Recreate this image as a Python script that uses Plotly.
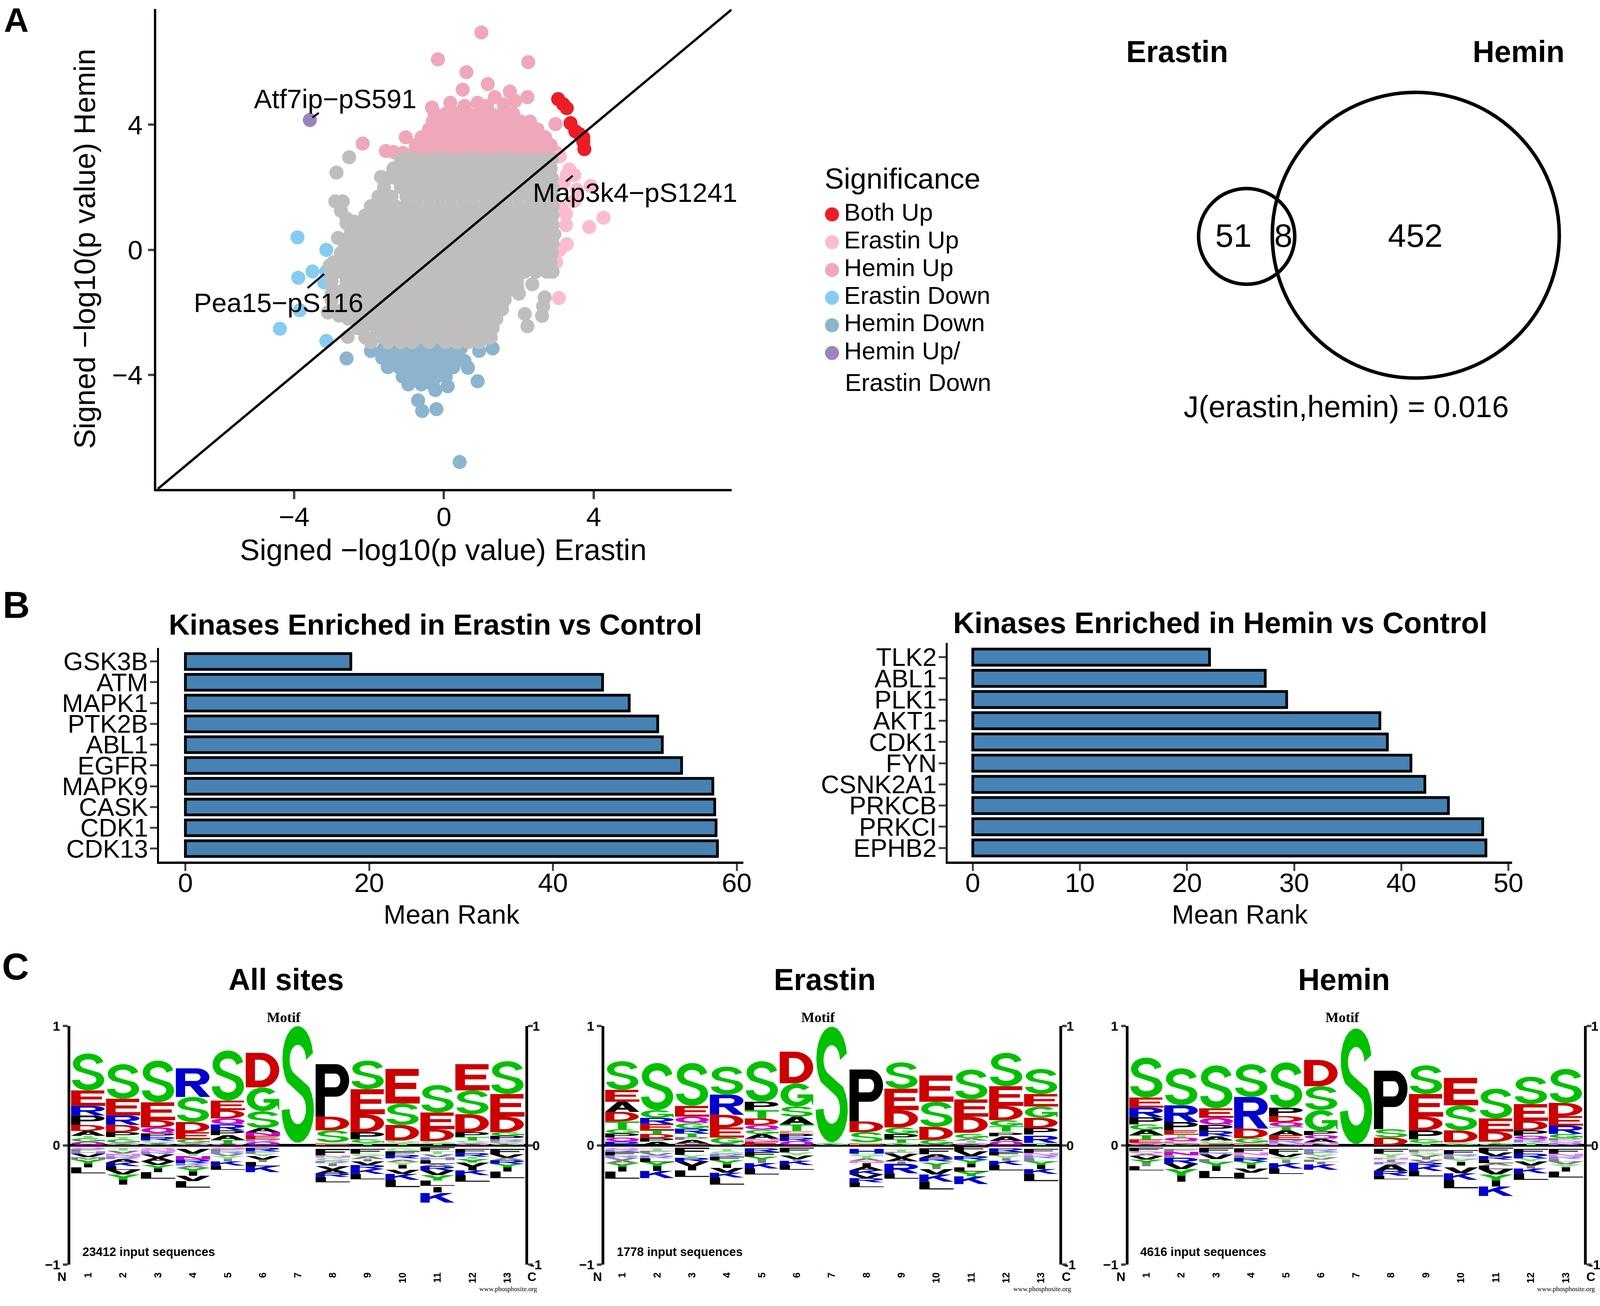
import math
import plotly.graph_objects as go

W, H = 4130, 3344

# ---------------- Panel A data ----------------
gray_rows = [
 (2.9, [-1.15,-.9,-.6,-.3,0,.3,.6,.9,1.2,1.5,1.8,2.1,2.4,2.7,2.88]),
 (2.6, [-1.35,-1.05,-.75,-.45,-.15,.15,.45,.75,1.05,1.35,1.65,1.95,2.25,2.55,2.85]),
 (2.3, [-1.5,-1.3,-1.0,-.7,-.4,-.1,.2,.5,.8,1.1,1.4,1.7,2.0,2.3,2.6,2.88]),
 (2.0, [-1.6,-1.15,-.85,-.55,-.25,.05,.35,.65,.95,1.25,1.55,1.85,2.15,2.45,2.75,2.9]),
 (1.7, [-1.75,-1.4,-1.0,-.7,-.4,-.1,.2,.5,.8,1.1,1.4,1.7,2.0,2.3,2.6,2.9]),
 (1.4, [-1.95,-1.6,-1.3,-1.0,-.7,-.4,-.1,.2,.5,.8,1.1,1.4,1.7,2.0,2.3,2.6,2.9]),
 (1.1, [-2.1,-1.8,-1.45,-1.15,-.85,-.55,-.25,.05,.35,.65,.95,1.25,1.55,1.85,2.15,2.45,2.75,2.9]),
 (0.8, [-2.35,-2.0,-1.65,-1.3,-1.0,-.7,-.4,-.1,.2,.5,.8,1.1,1.4,1.7,2.0,2.3,2.6,2.9]),
 (0.5, [-2.5,-2.15,-1.8,-1.45,-1.15,-.85,-.55,-.25,.05,.35,.65,.95,1.25,1.55,1.85,2.15,2.45,2.75,2.95]),
 (0.2, [-2.65,-2.35,-2.0,-1.65,-1.3,-1.0,-.7,-.4,-.1,.2,.5,.8,1.1,1.4,1.7,2.0,2.3,2.6,2.9]),
 (-0.1, [-2.75,-2.45,-2.15,-1.8,-1.45,-1.15,-.85,-.55,-.25,.05,.35,.65,.95,1.25,1.55,1.85,2.15,2.45,2.75,2.88]),
 (-0.4, [-2.95,-2.6,-2.3,-2.0,-1.65,-1.3,-1.0,-.7,-.4,-.1,.2,.5,.8,1.1,1.4,1.7,2.0,2.3,2.6,2.85]),
 (-0.7, [-3.0,-2.75,-2.45,-2.15,-1.8,-1.45,-1.15,-.85,-.55,-.25,.05,.35,.65,.95,1.25,1.55,1.85,2.15,2.45,2.75,2.9]),
 (-1.0, [-3.0,-2.6,-2.3,-2.0,-1.65,-1.3,-1.0,-.7,-.4,-.1,.2,.5,.8,1.1,1.4,1.7,1.95]),
 (-1.3, [-2.95,-2.7,-2.45,-2.15,-1.8,-1.45,-1.15,-.85,-.55,-.25,.05,.35,.65,.95,1.25,1.55,1.72]),
 (-1.6, [-3.0,-2.6,-2.3,-2.0,-1.65,-1.3,-1.0,-.7,-.4,-.1,.2,.5,.8,1.1,1.4,1.62]),
 (-1.9, [-3.0,-2.7,-2.45,-2.15,-1.8,-1.45,-1.15,-.85,-.55,-.25,.05,.35,.65,.95,1.25,1.55]),
 (-2.2, [-2.55,-2.3,-2.0,-1.65,-1.3,-1.0,-.7,-.4,-.1,.2,.5,.8,1.1,1.4]),
 (-2.5, [-2.3,-2.15,-1.8,-1.45,-1.15,-.85,-.55,-.25,.05,.35,.65,.95,1.3]),
 (-2.8, [-2.1,-1.85,-1.6,-1.3,-1.0,-.7,-.4,-.1,.2,.5,.8,1.1,1.25]),
 (-2.95, [-1.95,-1.5,-1.15,-.85,-.4,.05,.35,.65,.95]),
]
gray_extra_x = [-2.53,-2.87,-1.68,-2.9,-2.7,-2.75,-2.6,-2.4,-2.83,-2.6,2.36,1.96,2.69,2.16,2.62,2.23,2.65,-2.57,2.0,-3.05,-3.0,-3.1,-2.8]
gray_extra_y = [2.96,2.47,2.33,1.55,1.55,1.25,.85,.9,.38,1.0,-1.1,-1.22,-1.52,-2.05,-2.11,-2.44,-1.8,-2.78,-1.4,-.5,-1.4,-2.0,-2.1]

hemin_up_rows = [
 (3.1, [-1.1,-.8,-.5,-.2,.1,.4,.7,1.0,1.3,1.6,1.9,2.2,2.5,2.8,3.0]),
 (3.35, [-.75,-.45,-.15,.15,.45,.75,1.05,1.35,1.65,1.95,2.25,2.55,2.85]),
 (3.6, [-.6,-.3,0,.3,.6,.9,1.2,1.5,1.8,2.1,2.4,2.7]),
 (3.85, [-.4,-.15,.15,.45,.75,1.05,1.35,1.65,1.95,2.25,2.5]),
 (4.1, [-.3,0,.3,.6,.9,1.2,1.5,1.8,2.05,2.3]),
 (4.35, [-.25,.05,.35,.65,.95,1.25,1.55,1.85]),
]
hemin_up_x = [1.0,-.16,2.25,.6,1.17,.5,1.76,1.36,2.23,1.9,.9,.17,-.32,-2.17,-1.02,-1.55,-1.35,2.98,1.6,1.15,.55]
hemin_up_y = [6.95,6.09,6.0,5.68,5.3,5.12,5.06,4.88,4.88,4.76,4.7,4.7,4.55,3.4,3.6,3.16,3.13,4.02,4.65,4.6,4.6]

both_up_x = [3.05,3.18,3.28,3.38,3.51,3.62,3.72,3.72,3.75]
both_up_y = [4.82,4.66,4.53,4.05,3.79,3.7,3.6,3.46,3.22]
erastin_up_x = [3.09,3.35,3.48,3.28,3.92,3.55,3.48,4.26,3.88,3.26,3.26,3.28,3.09,3.0,3.07,3.2,3.15]
erastin_up_y = [2.99,2.57,2.39,2.39,2.04,1.92,1.56,1.03,.73,.79,1.15,.18,0,-.39,-1.54,2.15,1.33]
erastin_down_x = [-3.91,-3.14,-3.51,-3.89,-3.2,-3.14,-3.85,-4.38,-3.14]
erastin_down_y = [.4,0,-.69,-.89,-1.04,-.69,-1.93,-2.52,-2.91]
hemin_down_rows = [
 (-3.15, [-1.6,-1.3,-1.0,-.7,-.4,-.1,.2,.45]),
 (-3.45, [-1.65,-1.4,-1.1,-.8,-.5,-.2,.1,.4]),
 (-3.75, [-1.5,-1.2,-.9,-.6,-.3,0,.25]),
 (-4.05, [-1.1,-.8,-.5,-.2,.05]),
 (-4.3, [-.95,-.6,-.3]),
]
hemin_down_x = [.42,-.58,-.2,-.69,-2.6,-1.95,1.3,.94,.9,.64,.1,-.23,.55]
hemin_down_y = [-6.78,-5.15,-5.09,-4.81,-3.47,-3.23,-3.15,-3.23,-4.2,-3.77,-4.36,-4.48,-3.55]
dual_x = [-3.58]
dual_y = [4.15]

label_lines = [([-3.51,-3.34],[4.23,4.38]), ([3.26,3.44],[2.19,2.37]), ([-3.64,-3.2],[-1.22,-.77])]
diagonal = [-7.64, 7.68]

legend_names = ["Both Up","Erastin Up","Hemin Up","Erastin Down","Hemin Down","Hemin Up/"]
venn_counts = ["51","8","452"]

# ---------------- Panel B data ----------------
erastin_kinases = ["GSK3B","ATM","MAPK1","PTK2B","ABL1","EGFR","MAPK9","CASK","CDK1","CDK13"]
erastin_rank = [18.0,45.4,48.3,51.4,51.9,54.0,57.4,57.6,57.75,57.9]
hemin_kinases = ["TLK2","ABL1","PLK1","AKT1","CDK1","FYN","CSNK2A1","PRKCB","PRKCI","EPHB2"]
hemin_rank = [22.1,27.3,29.3,38.0,38.7,40.9,42.2,44.4,47.6,47.9]

# ---------------- Panel C data: letter heights (1/100 of a logo unit), top to bottom ----------------
all_up = [
 "S31 E13 R8 P8 D5 A4 T2 G3 Q3",
 "S29 E14 R8 D6 P4 T2 G3 Q2",
 "S35 E15 D6 Q5 P3 R3 G2 A2",
 "R24 S21 D8.5 E6 G3 Q2",
 "S42 E8 D7 Q5 R5 P4 A4 T3 Q1.5",
 "D29 G20 S14 A3.5 N3 E3 R2 Q3",
 "S98 _2",
 "P44 D11.5 S10 _.5 E2",
 "S24 E21 D15 P6 G3 T2",
 "E29 S18 D13 G2 T2",
 "S23 E14 D10 G2 T1.5",
 "E22 S20 D15 P4 T3 G2 Q2",
 "S27.5 E19 D13 G3 P3 R2 E1 G2",
]
all_dn = [
 "_1.5 Q1.5 F2 H2 V3 M2 Y3.5 I3 L5",
 "_2 T2.5 V2.5 N2.5 R2 A3 K3 L3 V4 Y4.5 I4",
 "_2 Q1.5 N2 R2 V3 A3 V3 Y3 I3 L5.5",
 "_3 V4 T2 N3 R3 K2 A2 Y3 I3.5 V4.5 L5.5",
 "_1.5 Q1.5 F2 R2 V2 Y2.5 I2 K3.5 L3.5",
 "_2 R3 F2 Y2 V3 I2 L3.5 K5",
 "",
 "_3 F5.5 N2 G2.5 R2 I2.5 V3 A3 R3 L4.5",
 "_3 F4 G2 A2.5 I2 V3 R3.5 K4 L4.5",
 "_2.5 G2.5 F3 R3 _1 A2 Y2.5 I3 _1 V3.5 K5 L6",
 "_1.5 F3.5 T2.5 V2.5 H2.5 L3 A2 R3.5 V4 Y4.5 L4.5 _1 I4.5 _.5 K8",
 "_3 F3.5 R3 T2 Y3 V3.5 I3 K4 L5.5",
 "_3 F4.5 V3 A2 R3 Y3 I3.5 L5.5",
]
erastin_up = [
 "S24 E10 A8.5 D8 T6.5 G3.5 P3.5 Q3.5 R3",
 "S39.5 G6.5 R5 E5.5 T3 D3.5 P3 A3",
 "S36 E9 Q5.5 G4.5 R4 T3 P2.5 A3 E1.5",
 "S23.5 R17 D10.5 E8.5 G5 Q1.5",
 "S34 P7 T7 D5.5 Q4 G3.5 A4 N2.5 E3",
 "D26.5 G19.5 S8.5 A6.5 T5.5 E2.5 P3 R3 Q3.5",
 "S97 T.5 G2",
 "P43.5 D9 S8.5 _.5 E2",
 "S22 E18 D14.5 G5.5 P4.5 T3 G2",
 "E22 S21 D11 G3.5 Q1",
 "S25 E14.5 D13.5 _1 G3.5 A2 T2 Q2",
 "S28 E16.5 D12 G5 T4.5 _1 P3 A4 Q3.5",
 "S21 E10.5 G9.5 D8.5 P5.5 _1 R6 T2",
]
erastin_dn = [
 "_2 Q1.5 R2 F3 R2 V2 A2.5 Y3 I4 L6",
 "_2.5 T2 F2 V2 R2.5 L3 Y3.5 I4 K6",
 "_2 F6 Y2.5 R3 V4 I3.5 L5.5",
 "_3 T2 G2 R2.5 F3 Y3.5 I3 V4 K4 L6",
 "_2.5 R3 F4 Y3 I2.5 K4.5 L5",
 "_2 F4 Y2.5 V3 I1.5 K3.5 L4",
 "",
 "_3 H4 G2 T2 A2 N2 I3 A3 K3.5 V3 R3.5 L4",
 "_3.5 T2 F1.5 V3.5 A3 I2 R8 L4.5",
 "_2.5 F5 A3 R3 _1 Y3 I2.5 V4.5 K6 L6.5",
 "_1 F4 V4 R3 Y3.5 I3 L3.5 Y4 K6.5",
 "_2.5 R3 F3 Y2.5 I2 K3.5 L4.5",
 "_3 F3.5 N2 R2.5 L2.5 Y3 I3.5 K4 L6",
]
hemin_up = [
 "S33.5 E8.5 R8 P6 G4.5 A4.5 T3.5 E3 Q2",
 "S31 R14 P7 E3.5 T2.5 Q3 E2 G1.5",
 "S36 E8 Q6 P5 R4.5 A3.5 G2.5 E1.5",
 "S27.5 R26.5 D8 G4 E2",
 "S38 P7 D5 Q4 T3 A4 E4 R2.5 N2",
 "D22 S20 G17.5 P3.5 Q3 A3 N2.5",
 "S97 _1",
 "P49 S7 D6.5",
 "S24 E19 D11.5 P7.5 G3 T2",
 "E23 S21 D10 G2.5",
 "S25 E11 D8.5 T1.5 G1.5",
 "S23 E14 D8 P4.5 Q3 R2.5 T2.5",
 "S28.5 D11 E8 R7 G3.5 P2 Q2 R2",
]
hemin_dn = [
 "_2 F3 Q2 A2 V3 Y3 I2.5 L3.5",
 "_3 F2.5 N3 L2 R5 V4.5 Y5.5 I5",
 "_2 F4 R1.5 V4 L2.5 Y3.5 I4 L6",
 "_2.5 F3.5 N2.5 L2 R3 Y3 I3 V3.5 L5",
 "_3 F4 V3 Y2.5 I2.5 K4.5 L4.5",
 "_3 R2.5 F2 Y2.5 V2 L2 I2 K4.5",
 "",
 "_3 F4 Y2.5 T1 N1.5 I2 R2 A5.5 R4 L3",
 "_3.5 F2.5 G2 V2 I2 V2.5 R3 K4 L4.5",
 "_4 F3.5 R2 L2 Y2.5 I3 _1.5 V5 K5.5 L7",
 "_2 F4 V3 R3 L3 A2 L3 V4.5 Y5 I5 K8",
 "_3 F4 R4 Y2.5 V3.5 I2.5 K4 L5.5",
 "_3 F4 N2.5 R2 L2 V2.5 Y2.5 I3.5 L5",
]
positions = list(range(1, 14))

# ---------------- Styles and helpers ----------------
FONT = "Liberation Sans"
SERIF = "Liberation Serif"
COL_GRAY, COL_HUP, COL_EUP, COL_BOTH = "#BFBEBC", "#EFA8BA", "#FBBDCD", "#EE1C25"
COL_EDN, COL_HDN, COL_DUAL = "#86CCF2", "#8DB4CE", "#9A84BE"
LETTER_COLORS = {}
for c in "STGY": LETTER_COLORS[c] = (0, 192, 0)
for c in "QN": LETTER_COLORS[c] = (204, 0, 204)
for c in "KRH": LETTER_COLORS[c] = (0, 0, 204)
for c in "DE": LETTER_COLORS[c] = (204, 0, 0)
for c in "PAVLIFM": LETTER_COLORS[c] = (0, 0, 0)

def letter_fill(letter, h):
    r, g, b = LETTER_COLORS[letter]
    k = 0.5 if h <= .025 else 0.0   # the shortest letters blur to pale bands in the reference
    return "rgb(%d,%d,%d)" % (r + (255 - r) * k, g + (255 - g) * k, b + (255 - b) * k)

def arc(cx, cy, rx, ry, a0, a1, n=14):
    return [(cx + rx * math.cos(math.radians(a0 + (a1 - a0) * i / n)),
             cy + ry * math.sin(math.radians(a0 + (a1 - a0) * i / n))) for i in range(n + 1)]

GLYPHS = {
 "S": [arc(.5,.72,.45,.28,10,225)+arc(.5,.29,.24,.13,70,-180)+arc(.5,.28,.47,.28,180,405)+arc(.5,.71,.24,.13,250,0)],
 "E": [[(0,0),(1,0),(1,.2),(.28,.2),(.28,.42),(.9,.42),(.9,.6),(.28,.6),(.28,.8),(.97,.8),(.97,1),(0,1)]],
 "L": [[(0,0),(1,0),(1,.14),(.3,.14),(.3,1),(0,1)]],
 "T": [[(.37,0),(.63,0),(.63,.82),(1,.82),(1,1),(0,1),(0,.82),(.37,.82)]],
 "K": [[(0,0),(.27,0),(.27,.35),(.42,.5),(.72,0),(1,0),(.6,.65),(.95,1),(.6,1),(.27,.62),(.27,1),(0,1)]],
 "Y": [[(.37,0),(.63,0),(.63,.4),(1,1),(.7,1),(.5,.62),(.3,1),(0,1),(.37,.4)]],
 "V": [[(.36,0),(.64,0),(1,1),(.72,1),(.5,.3),(.28,1),(0,1)]],
 "A": [[(0,0),(.28,0),(.35,.22),(.42,.4),(.5,.72),(.58,.4),(.42,.4),(.35,.22),(.65,.22),(.72,0),(1,0),(.64,1),(.36,1)]],
 "N": [[(0,0),(.25,0),(.25,.6),(.72,0),(1,0),(1,1),(.75,1),(.75,.4),(.28,1),(0,1)]],
 "F": [[(0,0),(.28,0),(.28,.42),(.85,.42),(.85,.6),(.28,.6),(.28,.8),(1,.8),(1,1),(0,1)]],
 "H": [[(0,0),(.27,0),(.27,.4),(.73,.4),(.73,0),(1,0),(1,1),(.73,1),(.73,.6),(.27,.6),(.27,1),(0,1)]],
 "M": [[(0,0),(.2,0),(.2,.7),(.42,0),(.58,0),(.8,.7),(.8,0),(1,0),(1,1),(.72,1),(.5,.35),(.28,1),(0,1)]],
 "I": [[(.38,0),(.62,0),(.62,1),(.38,1)]],
 "D": [[(0,0),(.45,0)]+arc(.45,.5,.53,.5,-90,90)+[(0,1),(0,.2),(.27,.2),(.27,.8),(.42,.8)]+arc(.42,.5,.3,.3,90,-90)+[(.27,.2),(0,.2)]],
 "P": [[(0,0),(.27,0),(.27,.38),(.6,.38)]+arc(.6,.69,.38,.31,-90,90)+[(0,1),(0,.56),(.27,.56),(.27,.82),(.58,.82)]+arc(.58,.69,.14,.13,90,-90)+[(.27,.56),(0,.56)]],
 "R": [[(0,0),(.27,0),(.27,.38),(.42,.38),(.7,0),(1,0),(.68,.42)]+arc(.6,.69,.38,.31,-50,90)+[(0,1),(0,.56),(.27,.56),(.27,.82),(.58,.82)]+arc(.58,.69,.14,.13,90,-90)+[(.27,.56),(0,.56)]],
 "Q": [arc(.5,.52,.49,.48,-90,270,28)+arc(.5,.52,.24,.27,270,-90,20), [(.55,.28),(.88,0),(1,.12),(.72,.36)]],
 "G": [arc(.5,.5,.48,.5,40,330)+[(.98,.02),(.98,.52),(.52,.52),(.52,.36),(.74,.36)]+arc(.5,.5,.25,.3,-30,-320)],
}

def parse_stack(s):
    out = []
    for tok in s.split():
        out.append((tok[0], float(tok[1:]) / 100.0))
    return out

def logo_traces(up, dn, xref, yref):
    buckets = {}
    def add(letter, col, base, h):
        if letter == "_":
            return
        b = buckets.setdefault(letter_fill(letter, h), ([], []))
        for poly in GLYPHS[letter]:
            for gx, gy in poly + [poly[0]]:
                b[0].append(col - .49 + .98 * gx)
                b[1].append(base + h * gy)
            b[0].append(None); b[1].append(None)
    for col, s in zip(positions, up):
        st = parse_stack(s)
        top = sum(h for _, h in st)
        for letter, h in st:
            add(letter, col, top - h, h)
            top -= h
    for col, s in zip(positions, dn):
        y = 0.0
        for letter, h in parse_stack(s):
            add(letter, col, y - h, h)
            y -= h
    return [go.Scatter(x=v[0], y=v[1], mode="none", fill="toself", fillcolor=k, hoverinfo="skip",
                       showlegend=False, xaxis=xref, yaxis=yref) for k, v in buckets.items()]

def flat(rows, ex=(), ey=()):
    xs, ys = [], []
    for y, r in rows:
        xs += r; ys += [y] * len(r)
    return xs + list(ex), ys + list(ey)

SHIFT = 15   # vertical correction, in pixels, of the whole picture
def dx(a, b): return [a / W, b / W]
def dy(top, bottom): return [1 - (bottom - SHIFT) / H, 1 - (top - SHIFT) / H]

annotations = []
def text(s, px, py, size, bold=False, family=FONT, anchor="center", angle=0, color="#000000"):
    annotations.append(dict(text=s, x=px / W, y=1 - (py - SHIFT) / H, xref="paper", yref="paper", xanchor=anchor,
                            yanchor="middle", showarrow=False, textangle=angle,
                            font=dict(family=family, size=size, color=color, weight=700 if bold else 400)))

fig = go.Figure()

# ---- panel A traces
def scat(x, y, color):
    fig.add_trace(go.Scatter(x=x, y=y, mode="markers", marker=dict(size=36, color=color, line=dict(width=0)),
                             showlegend=False, hoverinfo="skip", xaxis="x", yaxis="y"))
hx, hy = flat(hemin_up_rows, hemin_up_x, hemin_up_y)
scat(hx, hy, COL_HUP)
scat(erastin_up_x, erastin_up_y, COL_EUP)
scat(both_up_x, both_up_y, COL_BOTH)
scat(erastin_down_x, erastin_down_y, COL_EDN)
dnx, dny = flat(hemin_down_rows, hemin_down_x, hemin_down_y)
scat(dnx, dny, COL_HDN)
scat(dual_x, dual_y, COL_DUAL)
gx, gy = flat(gray_rows, gray_extra_x, gray_extra_y)
scat(gx, gy, COL_GRAY)
fig.add_trace(go.Scatter(x=diagonal, y=diagonal, mode="lines", line=dict(color="#000000", width=6),
                         showlegend=False, hoverinfo="skip", xaxis="x", yaxis="y"))
for lx, ly in label_lines:
    fig.add_trace(go.Scatter(x=lx, y=ly, mode="lines", line=dict(color="#000000", width=5),
                             showlegend=False, hoverinfo="skip", xaxis="x", yaxis="y"))

# ---- panel B traces
for names, vals, xa, ya in [(erastin_kinases, erastin_rank, "x2", "y2"), (hemin_kinases, hemin_rank, "x3", "y3")]:
    fig.add_trace(go.Bar(x=vals, y=names, orientation="h", width=.76,
                         marker=dict(color="#4682B4", line=dict(color="#000000", width=7)),
                         showlegend=False, hoverinfo="skip", xaxis=xa, yaxis=ya))

# ---- panel C traces
for up, dn, xa, ya in [(all_up, all_dn, "x4", "y4"), (erastin_up, erastin_dn, "x5", "y5"), (hemin_up, hemin_dn, "x6", "y6")]:
    for t in logo_traces(up, dn, xa, ya):
        fig.add_trace(t)

# ---- legend drawn on a pixel canvas axis
leg_cols = [COL_BOTH, COL_EUP, COL_HUP, COL_EDN, COL_HDN, COL_DUAL]
leg_y = [y - SHIFT for y in [551, 623, 695, 767, 838, 910]]
fig.add_trace(go.Scatter(x=[2145] * 6, y=leg_y, mode="markers", marker=dict(size=36, color=leg_cols),
                         showlegend=False, hoverinfo="skip", xaxis="x7", yaxis="y7", cliponaxis=False))
fig.add_trace(go.Scatter(x=[2176] * 6, y=leg_y, mode="text", text=legend_names,
                         textposition="middle right", textfont=dict(family=FONT, size=63, color="#000000"),
                         showlegend=False, hoverinfo="skip", xaxis="x7", yaxis="y7", cliponaxis=False))

# ---- layout
axis_tick = dict(family=FONT, size=69, color="#000000")
def cat_axis(domain, rng, names, anchor):
    return dict(domain=domain, range=rng, type="category", categoryorder="array", categoryarray=names,
                tickmode="array", tickvals=names, ticktext=names, ticks="outside", ticklen=18, tickwidth=5,
                showgrid=False, zeroline=False, showline=True, linewidth=5, linecolor="#000",
                ticklabelstandoff=-8, tickfont=dict(family=FONT, size=65, color="#000"), anchor=anchor)
layout = dict(
    width=W, height=H, margin=dict(l=0, r=0, t=0, b=0), autosize=False,
    paper_bgcolor="white", plot_bgcolor="rgba(0,0,0,0)", bargap=.2,
    xaxis=dict(domain=dx(403, 1886), range=[-7.68, 7.68], tickvals=[-4, 0, 4], ticks="outside", ticklen=20, tickwidth=6,
               showgrid=False, zeroline=False, showline=True, linewidth=6, linecolor="#000", tickfont=axis_tick, anchor="y",
               ticklabelstandoff=-14),
    yaxis=dict(domain=dy(19, 1262), range=[-7.64, 7.7], tickvals=[-4, 0, 4], ticks="outside", ticklen=15, tickwidth=6,
               showgrid=False, zeroline=False, showline=True, linewidth=6, linecolor="#000", tickfont=axis_tick, anchor="x"),
    xaxis2=dict(domain=dx(410, 1916), range=[-2.87, 60.7], tickvals=[0, 20, 40, 60], ticks="outside", ticklen=18, tickwidth=5,
                showgrid=False, zeroline=False, showline=True, linewidth=6, linecolor="#000", tickfont=axis_tick, anchor="y2",
                ticklabelstandoff=-29),
    yaxis2=cat_axis(dy(1674, 2227), [9.62, -.65], erastin_kinases, "x2"),
    xaxis3=dict(domain=dx(2443, 3898), range=[-2.35, 50.33], tickvals=[0, 10, 20, 30, 40, 50], ticks="outside", ticklen=18, tickwidth=5,
                showgrid=False, zeroline=False, showline=True, linewidth=6, linecolor="#000", tickfont=axis_tick, anchor="y3",
                ticklabelstandoff=-29),
    yaxis3=cat_axis(dy(1661, 2227), [9.64, -.67], hemin_kinases, "x3"),
    xaxis7=dict(domain=[0, 1], range=[0, W], visible=False, anchor="y7"),
    yaxis7=dict(domain=[0, 1], range=[H, 0], visible=False, anchor="x7"),
)
logo_x = [(181, 1355), (1558, 2731), (2909, 4084)]
for i, (a, b) in enumerate(logo_x):
    n = i + 4
    layout[f"xaxis{n}"] = dict(domain=dx(a, b), range=[.485, 13.52], tickvals=positions, tickangle=-90, ticks="", showline=False,
                               showgrid=False, zeroline=False, anchor=f"y{n}", ticklabelstandoff=14,
                               tickfont=dict(family=FONT, size=25, color="#000", weight=700))
    layout[f"yaxis{n}"] = dict(domain=dy(2653, 3271), range=[-1, 1], tickvals=[-1, 0, 1], ticks="outside", ticklen=12, tickwidth=6,
                               showgrid=False, zeroline=True, zerolinewidth=7, zerolinecolor="#000", showline=True, linewidth=7,
                               linecolor="#000", mirror="ticks", anchor=f"x{n}",
                               tickfont=dict(family=FONT, size=34, color="#000", weight=700))

layout["shapes"] = [
    dict(type="circle", xref="x7", yref="y7", x0=3214 - 124, x1=3214 + 124, y0=608 - SHIFT - 124, y1=608 - SHIFT + 124,
         line=dict(color="#000", width=9), fillcolor="rgba(0,0,0,0)"),
    dict(type="circle", xref="x7", yref="y7", x0=3650 - 370, x1=3650 + 370, y0=605 - SHIFT - 370, y1=605 - SHIFT + 370,
         line=dict(color="#000", width=9), fillcolor="rgba(0,0,0,0)"),
]

# ---- text
text("A", 42, 47, 88, True); text("B", 42, 1562, 96, True); text("C", 40, 2499, 96, True)
text("Signed \u2212log10(p value) Erastin", 1143, 1419, 76)
text("Signed \u2212log10(p value) Hemin", 218, 640, 76, angle=-90)
text("Atf7ip\u2212pS591", 864, 252, 69)
text("Map3k4\u2212pS1241", 1637, 495, 69)
text("Pea15\u2212pS116", 718, 780, 69)
text("Significance", 2124, 459, 74, anchor="left")
text("Erastin Down", 2176, 986, 63, anchor="left")
text("Erastin", 3035, 129, 77, True); text("Hemin", 3915, 129, 77, True)
for s, px in zip(venn_counts, [3180, 3309, 3649]):
    text(s, px, 606, 84)
text("J(erastin,hemin) = 0.016", 3470, 1049, 77)
text("Kinases Enriched in Erastin vs Control", 1122, 1614, 74, True)
text("Kinases Enriched in Hemin vs Control", 3146, 1609, 75.5, True)
text("Mean Rank", 1165, 2364, 68); text("Mean Rank", 3197, 2364, 68)
text("All sites", 738, 2533, 77, True); text("Erastin", 2126, 2533, 77, True); text("Hemin", 3465, 2533, 77, True)
for b, mot, seq, sx, wx, nx, cx in [
    (1355, 732, "23412 input sequences", 210, 1387, 160, 1371),
    (2731, 2109, "1778 input sequences", 1588, 2763, 1540, 2749),
    (4084, 3461, "4616 input sequences", 2938, 4114, 2890, 4101)]:
    text("Motif", mot, 2631, 36, True, SERIF)
    text(seq, sx, 3238, 31, True, anchor="left")
    text("www.phosphosite.org", wx, 3334, 17, False, SERIF, anchor="right")
    text("N", nx, 3302, 32, True); text("C", cx, 3302, 32, True)
    text("1", b + 16, 2653, 34, True, anchor="left")
    text("0", b + 16, 2962, 34, True, anchor="left")
    text("-1", b + 10, 3271, 34, True, anchor="left")
layout["annotations"] = annotations

fig.update_layout(**layout)
fig.write_html("out.html", config={"displayModeBar": False},
               post_script="document.body.style.margin='0';var d=document.querySelector('.plotly-graph-div');"
                           "d.style.position='absolute';d.style.top='0';d.style.left='0';")
